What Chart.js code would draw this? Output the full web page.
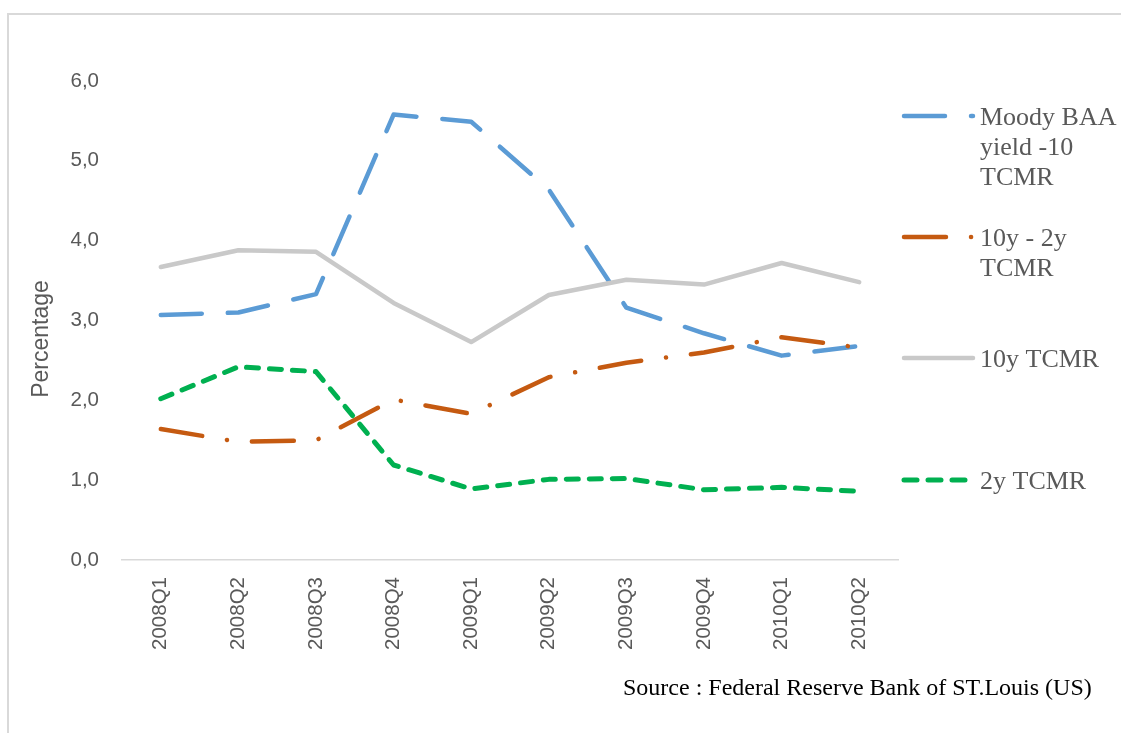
<!DOCTYPE html>
<html>
<head>
<meta charset="utf-8">
<script src="https://cdn.jsdelivr.net/npm/chart.js@4"></script>
<style>
  html, body { margin: 0; padding: 0; background: #fff; }
  #wrap { position: relative; width: 1121px; height: 733px; overflow: hidden; }
  #frame { position: absolute; left: 7px; top: 13px; width: 1200px; height: 800px;
           border-left: 2px solid #d9d9d9; border-top: 2px solid #d9d9d9; }
  canvas { position: absolute; left: 0; top: 0; }
</style>
</head>
<body>
<div id="wrap">
  <div id="frame"></div>
  <canvas id="chart" width="1121" height="733"></canvas>
</div>
<script>
// --- Data ---
const quarters = ['2008Q1', '2008Q2', '2008Q3', '2008Q4', '2009Q1', '2009Q2', '2009Q3', '2009Q4', '2010Q1', '2010Q2'];
const baaSpread = [3.07, 3.10, 3.33, 5.58, 5.49, 4.64, 3.16, 2.84, 2.56, 2.68];
const termSpread = [1.64, 1.48, 1.50, 2.01, 1.83, 2.29, 2.47, 2.60, 2.79, 2.66];
const tcmr10y = [3.67, 3.88, 3.86, 3.22, 2.73, 3.32, 3.51, 3.45, 3.72, 3.48];
const tcmr2y = [2.02, 2.42, 2.36, 1.19, 0.89, 1.01, 1.02, 0.88, 0.91, 0.86];
const yTickLabels = ['0,0', '1,0', '2,0', '3,0', '4,0', '5,0', '6,0'];
const legendLines = [
    ['Moody BAA', 'yield -10', 'TCMR'],
    ['10y - 2y', 'TCMR'],
    ['10y TCMR'],
    ['2y TCMR']
];
const yTitle = 'Percentage';
const sourceNote = 'Source : Federal Reserve Bank of ST.Louis (US)';

const SANS = '"Liberation Sans", Arial, sans-serif';
const SERIF = '"Liberation Serif", "Times New Roman", serif';
const TICK_FONT = { family: SANS, size: 20.5 };

// legend, axis title and source drawn by hand so they sit like the original
const sideLegend = {
    id: 'sideLegend',
    afterDraw(chart) {
        const ctx = chart.ctx;
        const rows = [
            { y: 116, base: 125 },
            { y: 237, base: 246 },
            { y: 358, base: 367 },
            { y: 480, base: 489 }
        ];
        chart.data.datasets.forEach((ds, i) => {
            const r = rows[i];
            ctx.save();
            ctx.strokeStyle = ds.borderColor;
            ctx.lineWidth = ds.borderWidth;
            ctx.lineCap = 'round';
            ctx.setLineDash(ds.legendDash || ds.borderDash || []);
            ctx.beginPath();
            ctx.moveTo(904, r.y);
            ctx.lineTo(ds.legendEnd || 973, r.y);
            ctx.stroke();
            ctx.restore();

            ctx.save();
            ctx.fillStyle = '#595959';
            ctx.font = '26px ' + SERIF;
            ctx.textBaseline = 'alphabetic';
            legendLines[i].forEach((t, k) => ctx.fillText(t, 980, r.base + k * 30));
            ctx.restore();
        });

        // y axis title
        ctx.save();
        ctx.translate(42, 339);
        ctx.rotate(-Math.PI / 2);
        ctx.fillStyle = '#595959';
        ctx.font = '23px ' + SANS;
        ctx.textAlign = 'center';
        ctx.textBaseline = 'middle';
        ctx.fillText(yTitle, 0, 0);
        ctx.restore();

        ctx.save();
        ctx.fillStyle = '#000';
        ctx.font = '24px ' + SERIF;
        ctx.fillText(sourceNote, 623, 695);
        ctx.restore();
    }
};

const ctx = document.getElementById('chart').getContext('2d');
new Chart(ctx, {
    type: 'line',
    data: {
        labels: quarters,
        datasets: [
            { label: legendLines[0].join(' '), data: baaSpread, borderColor: '#5b9bd5', borderWidth: 4.5,
              borderDash: [41, 26], order: 4 },
            { label: legendLines[1].join(' '), data: termSpread, borderColor: '#c55a11', borderWidth: 4.5,
              borderDash: [42, 25, 0.1, 25], order: 3 },
            { label: legendLines[2].join(' '), data: tcmr10y, borderColor: '#c9c9c9', borderWidth: 4.5,
              order: 2 },
            { label: legendLines[3].join(' '), data: tcmr2y, borderColor: '#00b050', borderWidth: 5,
              borderDash: [12, 11], legendDash: [13, 11], legendEnd: 966, order: 1 }
        ]
    },
    options: {
        responsive: false,
        animation: false,
        layout: { padding: { left: 28, right: 223, top: 81, bottom: 0 } },
        elements: {
            point: { radius: 0, hoverRadius: 0 },
            line: { tension: 0, borderCapStyle: 'round', borderJoinStyle: 'round', fill: false }
        },
        plugins: { legend: { display: false }, tooltip: { enabled: false } },
        scales: {
            x: {
                offset: true,
                grid: { display: false, drawTicks: false, offset: true },
                border: { display: true, color: '#d9d9d9', width: 1.5 },
                ticks: { color: '#595959', font: TICK_FONT, maxRotation: 90, minRotation: 90, padding: 17, autoSkip: false },
                afterFit: s => { s.height = 173; }
            },
            y: {
                min: 0, max: 6,
                grid: { display: false, drawTicks: false },
                border: { display: false },
                ticks: { stepSize: 1, color: '#595959', font: TICK_FONT, padding: 23,
                         callback: (v) => yTickLabels[Math.round(v)] },
                afterFit: s => { s.width = 94; }
            }
        }
    },
    plugins: [sideLegend]
});
</script>
</body>
</html>
